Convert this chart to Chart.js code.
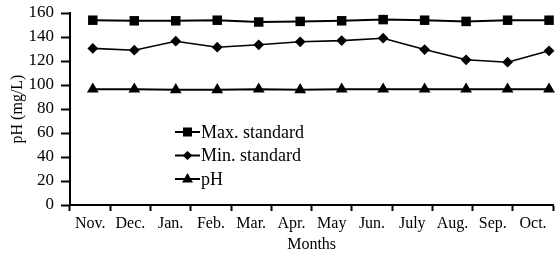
<!DOCTYPE html>
<html>
<head>
<meta charset="utf-8">
<script src="https://cdn.jsdelivr.net/npm/chart.js@4.4.1/dist/chart.umd.min.js"></script>
<style>
  html, body { margin: 0; padding: 0; overflow: hidden; background: #fff; }
  #wrap { width: 560px; height: 254px; }
</style>
</head>
<body>
<div id="wrap"><canvas id="myChart"></canvas></div>
<script>
const months = ['Nov.', 'Dec.', 'Jan.', 'Feb.', 'Mar.', 'Apr.', 'May', 'Jun.', 'July', 'Aug.', 'Sep.', 'Oct.'];
const maxStandard = [154, 153.5, 153.5, 154, 152.5, 153, 153.5, 154.5, 154, 153, 154, 154];
const minStandard = [130.5, 129, 136.5, 131.5, 133.5, 136, 137, 139, 129.5, 121, 119, 128.5];
const phValues = [96.5, 96.5, 96, 96, 96.5, 96, 96.5, 96.5, 96.5, 96.5, 96.5, 96.5];
const yTicks = [0, 20, 40, 60, 80, 100, 120, 140, 160];

const serif = '"Liberation Serif", "Times New Roman", serif';

// points sit on their own hidden index axis (the original plot spaces them a bit wider than the labels)
function toPoints(arr) {
    return arr.map((v, i) => ({ x: i, y: v }));
}

// legend drawn as line + marker, like the original figure
const lineLegend = {
    id: 'lineLegend',
    afterDraw(chart) {
        const ctx = chart.ctx;
        const rows = [132, 155.5, 179];
        ctx.save();
        chart.data.datasets.forEach((ds, i) => {
            const y = rows[i];
            const cx = 187.5;
            ctx.strokeStyle = '#000';
            ctx.fillStyle = '#000';
            ctx.lineWidth = 2;
            ctx.beginPath();
            ctx.moveTo(175, y);
            ctx.lineTo(200, y);
            ctx.stroke();
            ctx.beginPath();
            if (ds.pointStyle === 'rect') {
                ctx.rect(cx - 4.5, y - 4.5, 9, 9);
            } else if (ds.pointStyle === 'rectRot') {
                ctx.moveTo(cx - 5, y);
                ctx.lineTo(cx, y - 4.5);
                ctx.lineTo(cx + 5, y);
                ctx.lineTo(cx, y + 4.5);
                ctx.closePath();
            } else {
                ctx.moveTo(cx, y - 6);
                ctx.lineTo(cx + 5.5, y + 3.5);
                ctx.lineTo(cx - 5.5, y + 3.5);
                ctx.closePath();
            }
            ctx.fill();
            ctx.font = '18px ' + serif;
            ctx.textBaseline = 'middle';
            ctx.textAlign = 'left';
            ctx.fillText(ds.label, 201, y + 1);
        });
        ctx.restore();
    }
};

const data = {
    labels: months,
    datasets: [{
        label: 'Max. standard',
        data: toPoints(maxStandard),
        xAxisID: 'xd',
        borderColor: '#000',
        backgroundColor: '#000',
        borderWidth: 2,
        pointStyle: 'rect',
        pointRadius: 6.7,
        pointBorderWidth: 0,
        clip: false
    }, {
        label: 'Min. standard',
        data: toPoints(minStandard),
        xAxisID: 'xd',
        borderColor: '#000',
        backgroundColor: '#000',
        borderWidth: 1.6,
        pointStyle: 'rectRot',
        pointRadius: 5.4,
        pointBorderWidth: 0,
        clip: false
    }, {
        label: 'pH',
        data: toPoints(phValues),
        xAxisID: 'xd',
        borderColor: '#000',
        backgroundColor: '#000',
        borderWidth: 2,
        pointStyle: 'triangle',
        pointRadius: 6.8,
        pointBorderWidth: 0,
        clip: false
    }]
};

const config = {
    type: 'line',
    data: data,
    options: {
        responsive: true,
        maintainAspectRatio: false,
        animation: false,
        layout: { padding: { top: 13, right: 2, bottom: 0, left: 0 } },
        plugins: {
            legend: { display: false },
            tooltip: { enabled: false }
        },
        scales: {
            x: {
                type: 'category',
                offset: true,
                grid: {
                    offset: true,
                    drawOnChartArea: false,
                    tickLength: 6,
                    tickWidth: 2,
                    tickColor: '#000'
                },
                border: { color: '#000', width: 2 },
                ticks: {
                    color: '#000',
                    padding: 3,
                    maxRotation: 0,
                    autoSkip: false,
                    font: { family: serif, size: 16 }
                },
                title: {
                    display: true,
                    text: 'Months',
                    color: '#000',
                    padding: 0,
                    font: { family: serif, size: 16 }
                },
                afterFit: s => { s.height = 49; }
            },
            xd: {
                type: 'linear',
                axis: 'x',
                display: false,
                min: -0.55,
                max: 11.1
            },
            y: {
                min: 0,
                max: 160,
                afterBuildTicks: s => { s.ticks = yTicks.map(v => ({ value: v })); },
                grid: {
                    drawOnChartArea: false,
                    tickLength: 9,
                    tickWidth: 2,
                    tickColor: '#000'
                },
                border: { color: '#000', width: 2 },
                ticks: {
                    color: '#000',
                    padding: 7,
                    font: { family: serif, size: 17 }
                },
                title: {
                    display: true,
                    text: 'pH (mg/L)',
                    color: '#000',
                    padding: { top: 8, bottom: 0 },
                    font: { family: serif, size: 16 }
                },
                afterFit: s => {
                    s.width = 70;
                    s.paddingTop = 0;
                    s.paddingBottom = 0;
                }
            }
        }
    },
    plugins: [lineLegend]
};

const myChart = new Chart(document.getElementById('myChart'), config);
</script>
</body>
</html>
